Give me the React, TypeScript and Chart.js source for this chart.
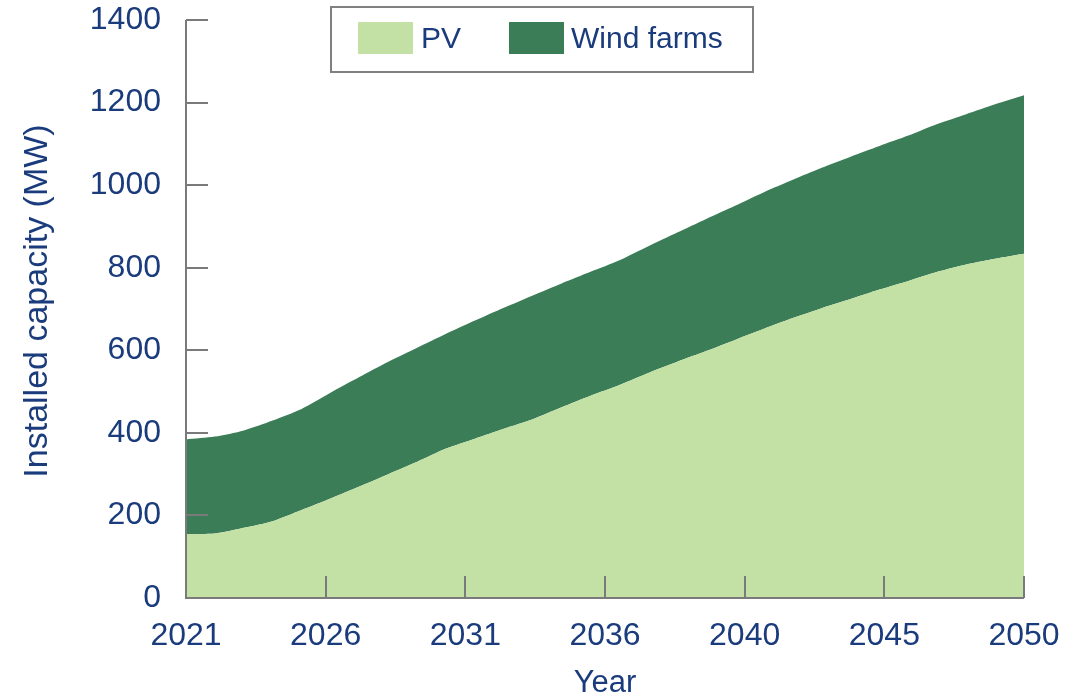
import React, { useEffect, useRef } from "react";
import { Chart, registerables } from "chart.js";

Chart.register(...registerables);

const years = [
  2021, 2022, 2023, 2024, 2025, 2026, 2027, 2028, 2029, 2030,
  2031, 2032, 2033, 2034, 2035, 2036, 2037, 2038, 2039, 2040,
  2041, 2042, 2043, 2044, 2045, 2046, 2047, 2048, 2049, 2050,
];
const pvValues = [
  155, 156, 170, 186, 213, 241, 270, 300, 330, 362,
  386, 410, 433, 462, 490, 516, 545, 572, 598, 625,
  652, 678, 702, 724, 747, 768, 790, 808, 822, 834,
];
const windValues = [
  229, 235, 236, 244, 245, 256, 265, 272, 276, 278,
  286, 293, 300, 300, 300, 302, 307, 313, 320, 325,
  331, 335, 340, 345, 348, 352, 358, 364, 374, 384,
];
const xTickLabels = ["2021", "2026", "2031", "2036", "2040", "2045", "2050"];
const seriesLabels = ["PV", "Wind farms"];
const seriesColors = ["#c3e0a5", "#3a7d57"];
const yTitle = "Installed capacity (MW)";

const TEXT = "#1a3b7c";
const AXIS = "#7a7a7a";
const FONT = "'Liberation Sans', Arial, Helvetica, sans-serif";

const xMin = years[0];
const xMax = years[years.length - 1];

const overlayPlugin = {
  id: "overlay",
  afterDraw(chart: any) {
    const ctx = chart.ctx;
    const area = chart.chartArea;
    const xs = chart.scales.x;
    const ys = chart.scales.y;
    ctx.save();
    ctx.strokeStyle = AXIS;
    ctx.lineWidth = 2;
    ys.ticks.forEach((t: any) => {
      const y = Math.round(ys.getPixelForValue(t.value));
      ctx.beginPath();
      ctx.moveTo(area.left, y);
      ctx.lineTo(area.left + 22, y);
      ctx.stroke();
    });
    xs.ticks.forEach((t: any) => {
      const x = Math.round(xs.getPixelForValue(t.value));
      ctx.beginPath();
      ctx.moveTo(x, area.bottom);
      ctx.lineTo(x, area.bottom - 22);
      ctx.stroke();
    });
    ctx.beginPath();
    ctx.moveTo(area.left, area.top);
    ctx.lineTo(area.left, area.bottom);
    ctx.lineTo(area.right, area.bottom);
    ctx.stroke();

    // y-axis title
    ctx.save();
    ctx.translate(38, 301);
    ctx.rotate(-Math.PI / 2);
    ctx.font = `34px ${FONT}`;
    ctx.fillStyle = TEXT;
    ctx.textAlign = "center";
    ctx.textBaseline = "middle";
    ctx.fillText(yTitle, 0, 0);
    ctx.restore();

    // legend
    const bx = 331, by = 7, bw = 422, bh = 65;
    ctx.strokeStyle = "#808080";
    ctx.lineWidth = 2;
    ctx.fillStyle = "#ffffff";
    ctx.fillRect(bx, by, bw, bh);
    ctx.strokeRect(bx, by, bw, bh);
    const items = [
      { sx: 358, tx: 421 },
      { sx: 509, tx: 571 },
    ];
    ctx.font = `30px ${FONT}`;
    ctx.textBaseline = "middle";
    ctx.textAlign = "left";
    chart.data.datasets.forEach((ds: any, i: number) => {
      const it = items[i];
      ctx.fillStyle = ds.backgroundColor;
      ctx.fillRect(it.sx, 22, 55, 32);
      ctx.fillStyle = TEXT;
      ctx.fillText(ds.label, it.tx, 40);
    });
    ctx.restore();
  },
};

export default function App() {
  const ref = useRef<HTMLCanvasElement | null>(null);

  useEffect(() => {
    if (!ref.current) return;
    const chart = new Chart(ref.current, {
      type: "line",
      data: {
        datasets: [pvValues, windValues].map((vals, i) => ({
          label: seriesLabels[i],
          data: years.map((yr, j) => ({ x: yr, y: vals[j] })),
          backgroundColor: seriesColors[i],
          borderColor: seriesColors[i],
          borderWidth: 0,
          pointRadius: 0,
          fill: i === 0 ? "origin" : "-1",
          tension: 0.25,
        })),
      },
      options: {
        animation: false,
        responsive: false,
        devicePixelRatio: 1,
        layout: { padding: { left: 0, right: 65, top: 20, bottom: 0 } },
        plugins: {
          legend: { display: false },
          tooltip: { enabled: false },
        },
        scales: {
          x: {
            type: "linear",
            min: xMin,
            max: xMax,
            afterBuildTicks: (scale: any) => {
              scale.ticks = xTickLabels.map((_, i) => ({
                value: xMin + (i * (xMax - xMin)) / (xTickLabels.length - 1),
              }));
            },
            afterFit: (scale: any) => {
              scale.height = 99;
              scale.paddingLeft = 0;
              scale.paddingRight = 0;
            },
            grid: { display: true, drawOnChartArea: false, drawTicks: false },
            border: { display: false },
            ticks: {
              autoSkip: false,
              maxRotation: 0,
              padding: 19,
              color: TEXT,
              font: { family: FONT, size: 32 },
              callback: (_v: any, i: number) => xTickLabels[i],
            },
            title: {
              display: true,
              text: "Year",
              color: TEXT,
              font: { family: FONT, size: 31, lineHeight: "28px" },
              padding: 0,
            },
          },
          y: {
            stacked: true,
            min: 0,
            max: 1400,
            afterFit: (scale: any) => {
              scale.width = 186;
              scale.paddingTop = 0;
              scale.paddingBottom = 0;
            },
            grid: { display: true, drawOnChartArea: false, drawTicks: false },
            border: { display: false },
            ticks: {
              stepSize: 200,
              padding: 25,
              color: TEXT,
              font: { family: FONT, size: 32 },
              callback: (v: any) => String(v),
            },
            title: { display: false },
          },
        },
      },
      plugins: [overlayPlugin],
    });
    return () => chart.destroy();
  }, []);

  return (
    <div style={{ position: "fixed", left: 0, top: 0, width: 1089, height: 697, background: "#fff" }}>
      <canvas ref={ref} width={1089} height={697} style={{ width: 1089, height: 697 }} />
    </div>
  );
}
